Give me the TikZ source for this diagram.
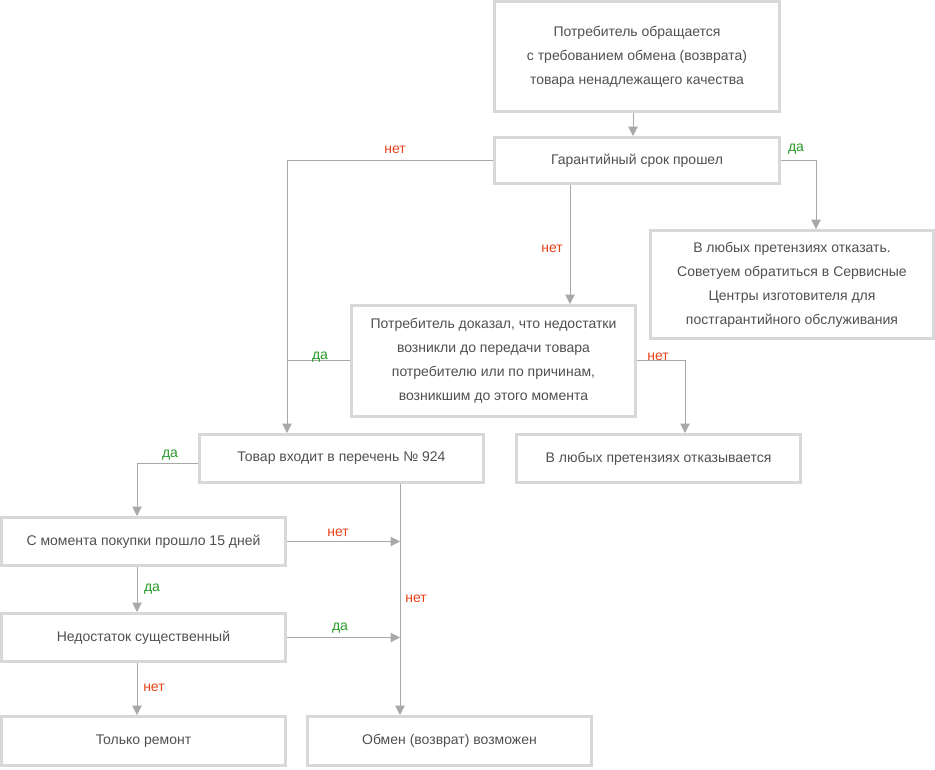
\documentclass[tikz,border=0pt]{standalone}
\usepackage{fontspec}
\setmainfont{Liberation Sans}
\usetikzlibrary{arrows.meta}
\definecolor{txt}{HTML}{505050}
\definecolor{brd}{HTML}{D8D8D8}
\definecolor{ln}{HTML}{A8A8A8}
\definecolor{nred}{HTML}{E8411A}
\definecolor{ngreen}{HTML}{279A27}
\tikzset{
  box/.style={draw=brd, line width=2.25pt, fill=white, text=txt, align=center,
    font=\fontsize{10.5}{18}\selectfont, inner sep=0pt},
  arr/.style={draw=ln, line width=0.75pt, -{Triangle[width=7pt,length=7pt]}},
  ln/.style={draw=ln, line width=0.75pt},
  yes/.style={text=ngreen, font=\fontsize{10.5}{12}\selectfont, inner sep=0pt, yshift=-1.5pt},
  no/.style={text=nred, font=\fontsize{10.5}{12}\selectfont, inner sep=0pt, yshift=-1.5pt},
}
\begin{document}
\begin{tikzpicture}[x=0.75pt,y=-0.75pt]
\useasboundingbox (0,0) rectangle (935,769);
\node[box, minimum width=285*0.75pt, minimum height=110*0.75pt] (n1) at (637,56.5)
  {Потребитель обращается\\с требованием обмена (возврата)\\товара ненадлежащего качества};
\node[box, minimum width=285*0.75pt, minimum height=46*0.75pt] (n2) at (637,160.5)
  {Гарантийный срок прошел};
\node[box, minimum width=283*0.75pt, minimum height=108*0.75pt] (n3) at (792,284.5)
  {В любых претензиях отказать.\\Советуем обратиться в Сервисные\\Центры изготовителя для\\постгарантийного обслуживания};
\node[box, minimum width=284*0.75pt, minimum height=111*0.75pt] (n4) at (493.5,361)
  {Потребитель доказал, что недостатки\\возникли до передачи товара\\потребителю или по причинам,\\возникшим до этого момента};
\node[box, minimum width=284*0.75pt, minimum height=48*0.75pt] (n5) at (341.5,458.5)
  {Товар входит в перечень № 924};
\node[box, minimum width=284*0.75pt, minimum height=48*0.75pt] (n6) at (658.5,458.5)
  {В любых претензиях отказывается};
\node[box, minimum width=284*0.75pt, minimum height=48*0.75pt] (n7) at (143.5,541.5)
  {С момента покупки прошло 15 дней};
\node[box, minimum width=284*0.75pt, minimum height=48*0.75pt] (n8) at (143.5,637.5)
  {Недостаток существенный};
\node[box, minimum width=284*0.75pt, minimum height=49*0.75pt] (n9) at (143.5,741)
  {Только ремонт};
\node[box, minimum width=284*0.75pt, minimum height=49*0.75pt] (n10) at (449.5,741)
  {Обмен (возврат) возможен};
\coordinate (xa) at (287,0);
\coordinate (xb) at (816,0);
\coordinate (xc) at (570,0);
\coordinate (xd) at (685,0);
\coordinate (xe) at (137,0);
\coordinate (xf) at (400,0);
\coordinate (xg) at (633,0);
\draw[arr] (n1.south -| xg) -- (n2.north -| xg);
\draw[arr] (n2.west) -| (n5.north -| xa);
\draw[arr] (n2.east) -| (n3.north -| xb);
\draw[arr] (n2.south -| xc) -- (n4.north -| xc);
\draw[ln] ([yshift=0.4pt]n4.west) -- ([yshift=0.4pt]n4.west -| xa);
\draw[arr] ([yshift=0.4pt]n4.east) -| (n6.north -| xd);
\draw[arr] ([yshift=-3.5pt]n5.west) -| (n7.north -| xe);
\draw[arr] (n5.south -| xf) -- (n10.north -| xf);
\draw[arr] (n7.east) -- (n7.east -| xf);
\draw[arr] (n7.south -| xe) -- (n8.north -| xe);
\draw[arr] (n8.east) -- (n8.east -| xf);
\draw[arr] (n8.south -| xe) -- (n9.north -| xe);
\node[no] (l1) at (395,148) {нет};
\node[yes] (l2) at (796,147) {да};
\node[no] (l3) at (552,247) {нет};
\node[yes] (l4) at (320,355) {да};
\node[no] (l5) at (658,355) {нет};
\node[yes] (l6) at (170,453) {да};
\node[no] (l7) at (338,531) {нет};
\node[yes] (l8) at (152,587) {да};
\node[no] (l9) at (416,597) {нет};
\node[yes] (l10) at (340,626) {да};
\node[no] (l11) at (154,686) {нет};
\end{tikzpicture}
\end{document}
